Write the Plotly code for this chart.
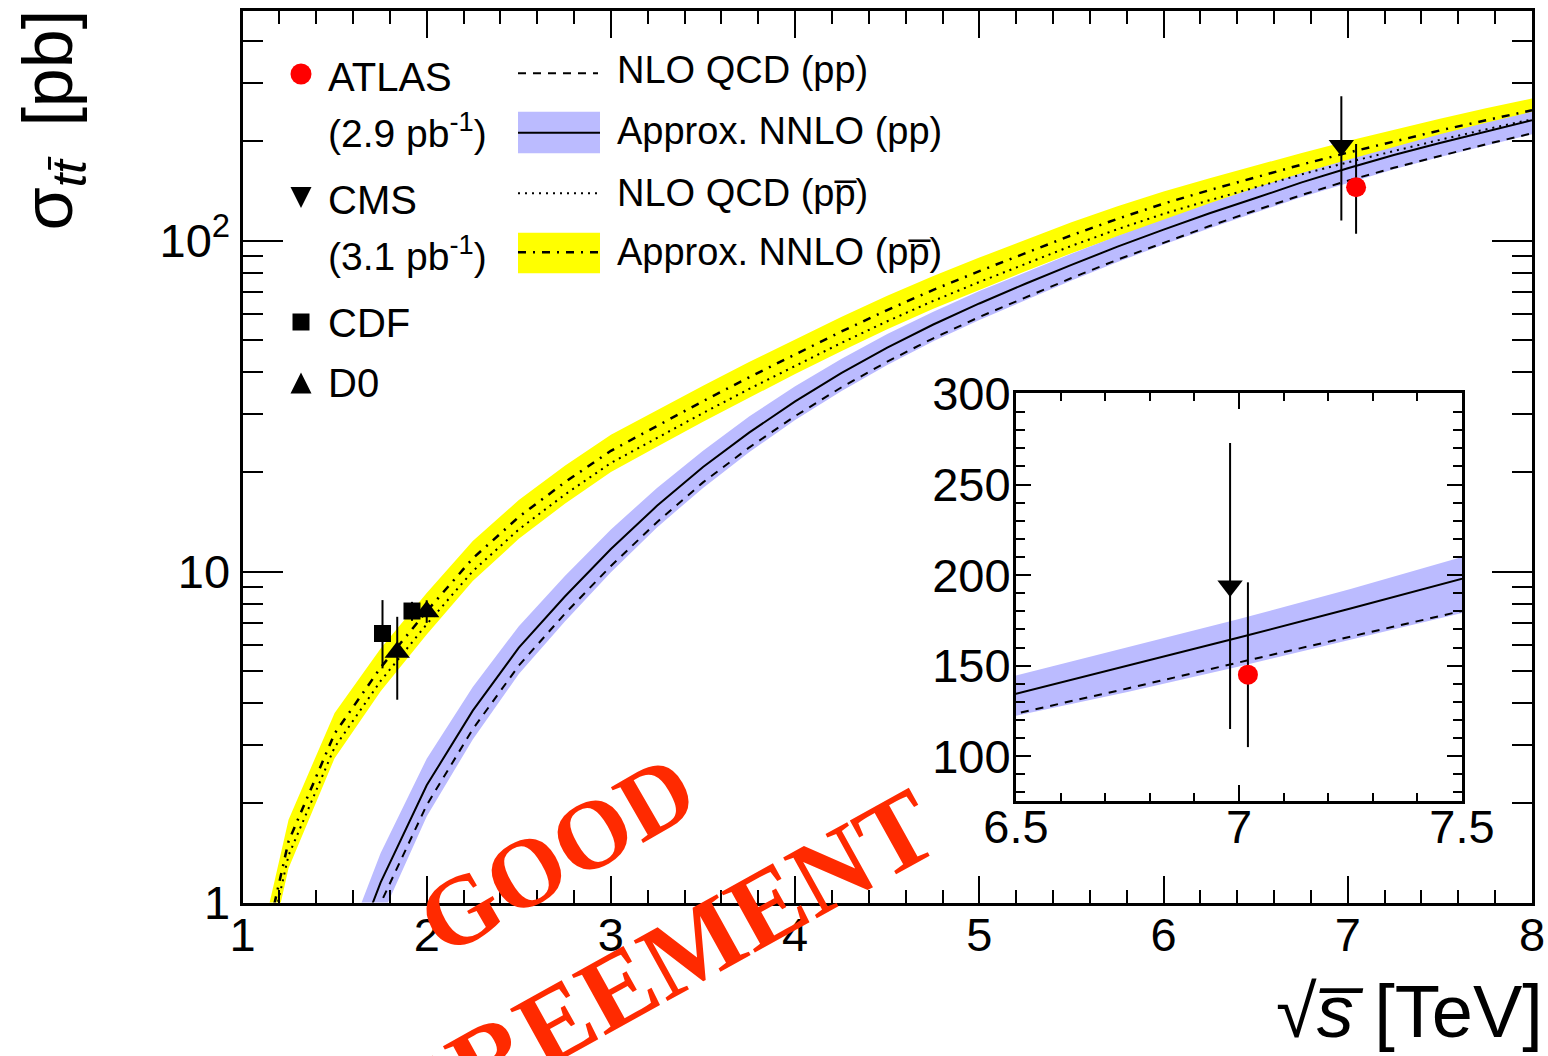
import plotly.graph_objects as go

W, H = 1548, 1056

# ---------------- theory curves: sigma(ttbar) in pb vs sqrt(s) in TeV ----------------
sqrt_s_pp = [1.5, 1.75, 2.0, 2.25, 2.5, 2.75, 3.0, 3.25, 3.5, 3.75, 4.0, 4.25, 4.5, 4.75,
             5.0, 5.25, 5.5, 5.75, 6.0, 6.25, 6.5, 6.75, 7.0, 7.25, 7.5, 7.75, 8.0]
pp_nnlo = [0.50, 1.15, 2.26, 3.80, 5.89, 8.41, 11.7, 15.8, 20.7, 26.3, 32.7, 39.8, 47.5, 55.8,
           64.6, 74.1, 84.5, 95.9, 108, 121, 134.5, 150, 165.5, 181.5, 197.3, 214, 231]
pp_nnlo_up = [0.615, 1.41, 2.72, 4.48, 6.84, 9.70, 13.4, 17.9, 23.2, 29.4, 36.3, 43.9, 52.2, 61.0,
              70.4, 80.3, 91.3, 103.3, 116, 129.8, 144.5, 160, 175.7, 192.3, 209.5, 227.3, 245.3]
pp_nnlo_lo = [0.388, 0.893, 1.82, 3.11, 4.90, 7.07, 9.96, 13.6, 17.9, 22.96, 28.7, 35.1, 42.1, 49.7,
              57.6, 66.2, 75.8, 86.2, 97.3, 109.1, 121.6, 135.5, 149.5, 164.3, 179, 194, 209.7]
pp_nlo = [0.43, 0.996, 1.97, 3.34, 5.20, 7.46, 10.4, 14.1, 18.6, 23.7, 29.5, 36.0, 43.1, 50.7,
          58.8, 67.5, 77.1, 87.6, 98.7, 110.7, 123.5, 137.4, 151.8, 166, 180.2, 195.6, 211]

sqrt_s_ppbar = [1.0, 1.25, 1.5, 1.75, 2.0, 2.25, 2.5, 2.75, 3.0, 3.25, 3.5, 3.75, 4.0, 4.25, 4.5,
                4.75, 5.0, 5.25, 5.5, 5.75, 6.0, 6.25, 6.5, 6.75, 7.0, 7.25, 7.5, 7.75, 8.0]
ppbar_nnlo = [0.372, 1.53, 3.24, 5.13, 7.59, 10.96, 14.62, 18.62, 23.17, 27.54, 32.73, 38.64, 45.4,
              53.1, 61.7, 71.0, 80.9, 91.8, 103.8, 116.4, 129.4, 142.2, 155.6, 169.8, 184.5,
              199.5, 215.3, 231.2, 247.7]
ppbar_nnlo_up = [0.437, 1.78, 3.74, 5.86, 8.61, 12.38, 16.45, 20.89, 25.93, 30.76, 36.46, 42.97,
                 50.35, 58.8, 68.1, 78.2, 88.9, 100.7, 113.6, 127.1, 140.9, 154.4, 168.7, 184.1,
                 200.0, 216.3, 233.4, 251.1, 269.0]
ppbar_nnlo_lo = [0.306, 1.27, 2.73, 4.35, 6.46, 9.37, 12.56, 16.03, 20.0, 23.82, 28.38, 33.58,
                 39.54, 46.36, 53.99, 62.27, 71.11, 80.88, 91.66, 103.0, 114.8, 126.4, 138.6,
                 151.6, 165.1, 179.0, 193.6, 208.5, 223.9]
ppbar_nlo = [0.337, 1.388, 2.945, 4.673, 6.93, 10.03, 13.41, 17.09, 21.29, 25.34, 30.14, 35.63,
             41.9, 49.06, 57.07, 65.75, 75.0, 85.19, 96.43, 108.3, 120.5, 132.5, 145.2, 158.6,
             172.5, 186.7, 201.7, 216.9, 232.6]

# ---------------- measurements ----------------
atlas_x_main, atlas_x_inset = [7.045], [7.02]
atlas_sigma, atlas_err_up, atlas_err_dn = [145], [51], [40]
cms_x_main, cms_x_inset = [6.965], [6.98]
cms_sigma, cms_err = [194], [79]
cdf_x = [1.76, 1.92]
cdf_sigma, cdf_err_up, cdf_err_dn = [6.5, 7.6], [1.7, 0.5], [1.4, 0.5]
d0_x = [1.84, 2.00]
d0_sigma, d0_err_up, d0_err_dn = [5.7, 7.56], [1.6, 0.63], [1.6, 0.56]

# tick labels
main_y_ticks = [1, 10, 100]
main_y_ticktext = ["1", "10", "10<sup>2</sup>"]
main_y_minor = [2, 3, 4, 5, 6, 7, 8, 9, 20, 30, 40, 50, 60, 70, 80, 90, 200, 300, 400]
inset_y_ticks = [100, 150, 200, 250, 300]

BLUE = "#bbbbff"
YELLOW = "#ffff00"
FONT = "Liberation Sans"


def px(x):
    return x / W


def py(y):
    return 1 - y / H


def band(xs, up, lo, color, xa, ya):
    return go.Scatter(x=xs + xs[::-1], y=up + lo[::-1], fill="toself", fillcolor=color,
                      line=dict(width=0), mode="lines", xaxis=xa, yaxis=ya,
                      hoverinfo="skip", showlegend=False)


def curve(xs, ys, dash, xa, ya, width=2):
    return go.Scatter(x=xs, y=ys, mode="lines", line=dict(color="black", width=width, dash=dash),
                      xaxis=xa, yaxis=ya, showlegend=False)


def points(xs, ys, up, dn, symbol, size, color, xa, ya):
    return go.Scatter(x=xs, y=ys, mode="markers",
                      marker=dict(symbol=symbol, size=size, color=color, line=dict(width=0)),
                      error_y=dict(type="data", array=up, arrayminus=dn, symmetric=False,
                                   thickness=2, width=0, color="black"),
                      xaxis=xa, yaxis=ya, showlegend=False)


DASH = "8px,7px"
DOT = "2px,5px"
DASHDOT = "8px,7px,2px,7px"

fig = go.Figure()
# main panel
fig.add_trace(band(sqrt_s_ppbar, ppbar_nnlo_up, ppbar_nnlo_lo, YELLOW, "x", "y"))
fig.add_trace(band(sqrt_s_pp, pp_nnlo_up, pp_nnlo_lo, BLUE, "x", "y"))
fig.add_trace(curve(sqrt_s_pp, pp_nlo, DASH, "x", "y"))
fig.add_trace(curve(sqrt_s_pp, pp_nnlo, "solid", "x", "y"))
fig.add_trace(curve(sqrt_s_ppbar, ppbar_nlo, DOT, "x", "y"))
fig.add_trace(curve(sqrt_s_ppbar, ppbar_nnlo, DASHDOT, "x", "y", width=2.5))
fig.add_trace(points(cdf_x, cdf_sigma, cdf_err_up, cdf_err_dn, "square", 17, "black", "x", "y"))
fig.add_trace(points(d0_x, d0_sigma, d0_err_up, d0_err_dn, "triangle-up", 22, "black", "x", "y"))
fig.add_trace(points(cms_x_main, cms_sigma, cms_err, cms_err, "triangle-down", 22, "black", "x", "y"))
fig.add_trace(points(atlas_x_main, atlas_sigma, atlas_err_up, atlas_err_dn, "circle", 20, "#ff0000", "x", "y"))
# inset zoomed around 7 TeV
fig.add_trace(band(sqrt_s_pp, pp_nnlo_up, pp_nnlo_lo, BLUE, "x2", "y2"))
fig.add_trace(curve(sqrt_s_pp, pp_nlo, DASH, "x2", "y2"))
fig.add_trace(curve(sqrt_s_pp, pp_nnlo, "solid", "x2", "y2"))
fig.add_trace(points(cms_x_inset, cms_sigma, cms_err, cms_err, "triangle-down", 22, "black", "x2", "y2"))
fig.add_trace(points(atlas_x_inset, atlas_sigma, atlas_err_up, atlas_err_dn, "circle", 20, "#ff0000", "x2", "y2"))

axis_common = dict(showgrid=False, zeroline=False, showline=True, linecolor="black", linewidth=3,
                   mirror="ticks", ticks="inside", tickwidth=2, tickcolor="black",
                   automargin=False, tickfont=dict(family=FONT, size=47, color="black"))

fig.update_layout(
    width=W, height=H, margin=dict(l=0, r=0, t=0, b=0, autoexpand=False),
    paper_bgcolor="white", plot_bgcolor="white", showlegend=False,
    xaxis=dict(domain=[px(242.5), px(1532)], range=[1, 8], tickmode="linear", tick0=1, dtick=1,
               ticklen=27, ticklabelstandoff=-11,
               minor=dict(dtick=0.2, tick0=1, ticks="inside", ticklen=13, tickwidth=2,
                          tickcolor="black", showgrid=False),
               anchor="y", **axis_common),
    yaxis=dict(domain=[py(902.5), py(11)], type="log", range=[0, 2.694], tickmode="array",
               tickvals=main_y_ticks, ticktext=main_y_ticktext, ticklen=40,
               minor=dict(tickmode="array", tickvals=main_y_minor, ticks="inside", ticklen=20,
                          tickwidth=2, tickcolor="black", showgrid=False),
               anchor="x", **axis_common),
    xaxis2=dict(domain=[px(1016), px(1462)], range=[6.5, 7.5], tickmode="linear", tick0=6.5,
                dtick=0.5, ticklen=16, ticklabelstandoff=-17,
                minor=dict(dtick=0.1, tick0=6.5, ticks="inside", ticklen=8, tickwidth=2,
                           tickcolor="black", showgrid=False),
                anchor="y2", **axis_common),
    yaxis2=dict(domain=[py(800.7), py(393.3)], range=[75.4, 300.4], tickmode="array",
                tickvals=inset_y_ticks, ticklen=15, ticklabelstandoff=-7,
                minor=dict(dtick=10, tick0=100, ticks="inside", ticklen=9, tickwidth=2,
                           tickcolor="black", showgrid=False),
                anchor="x2", **axis_common),
)

shapes = []
# legend, left column: experiments
shapes.append(dict(type="circle", xref="paper", yref="paper", x0=px(290.5), x1=px(311.5),
                   y0=py(84.5), y1=py(63.5), fillcolor="#ff0000", line=dict(width=0)))
shapes.append(dict(type="path", xref="paper", yref="paper",
                   path=f"M {px(290.5)},{py(187)} L {px(311.5)},{py(187)} L {px(301)},{py(208)} Z",
                   fillcolor="black", line=dict(width=0)))
shapes.append(dict(type="rect", xref="paper", yref="paper", x0=px(292.5), x1=px(309.5),
                   y0=py(330.5), y1=py(313.5), fillcolor="black", line=dict(width=0)))
shapes.append(dict(type="path", xref="paper", yref="paper",
                   path=f"M {px(290.5)},{py(393.5)} L {px(311.5)},{py(393.5)} L {px(301)},{py(372.5)} Z",
                   fillcolor="black", line=dict(width=0)))
# legend, right column: theory
shapes.append(dict(type="line", xref="paper", yref="paper", x0=px(518), x1=px(598),
                   y0=py(73.3), y1=py(73.3), line=dict(color="black", width=2, dash=DASH)))
shapes.append(dict(type="rect", xref="paper", yref="paper", x0=px(518), x1=px(600),
                   y0=py(153.3), y1=py(111.7), fillcolor=BLUE, line=dict(width=0)))
shapes.append(dict(type="line", xref="paper", yref="paper", x0=px(518), x1=px(600),
                   y0=py(132.7), y1=py(132.7), line=dict(color="black", width=2)))
shapes.append(dict(type="line", xref="paper", yref="paper", x0=px(518), x1=px(598),
                   y0=py(193.3), y1=py(193.3), line=dict(color="black", width=2, dash=DOT)))
shapes.append(dict(type="rect", xref="paper", yref="paper", x0=px(518), x1=px(600),
                   y0=py(273.3), y1=py(232.7), fillcolor=YELLOW, line=dict(width=0)))
shapes.append(dict(type="line", xref="paper", yref="paper", x0=px(518), x1=px(600),
                   y0=py(252.3), y1=py(252.3), line=dict(color="black", width=2.5, dash=DASHDOT)))
fig.update_layout(shapes=shapes)


def label(text, x, y, size=38, xanchor="left", yanchor="middle", angle=0, family=FONT,
          color="black"):
    return dict(text=text, x=px(x), y=py(y), xref="paper", yref="paper", showarrow=False,
                xanchor=xanchor, yanchor=yanchor, textangle=angle,
                font=dict(family=family, size=size, color=color))


PBAR = "p\u0305"
annotations = [
    label("ATLAS", 326, 77, size=40),
    label("(2.9 pb<sup>-1</sup>)", 326, 131, size=39),
    label("CMS", 326, 200, size=40),
    label("(3.1 pb<sup>-1</sup>)", 326, 254, size=39),
    label("CDF", 326, 323, size=40),
    label("D0", 326, 383, size=40),
    label("NLO QCD (pp)", 615, 70),
    label("Approx. NNLO (pp)", 615, 131),
    label(f"NLO QCD (p{PBAR})", 615, 193),
    label(f"Approx. NNLO (p{PBAR})", 615, 252),
    # axis titles
    label("\u221a<i>s\u0305</i> [TeV]", 1545, 1011, size=74, xanchor="right"),
    label("\u03c3<sub><i>tt\u0304</i></sub>\u2009 [pb]", 52, 8, size=70, xanchor="center",
          yanchor="top", angle=-90),
    # stamp
    label("<b>GOOD</b>", 556, 855, size=98, xanchor="center", angle=-30,
          family="Liberation Serif", color="#ff2a00"),
    label("<b>AGREEMENT</b>", 622, 985, size=106, xanchor="center", angle=-29,
          family="Liberation Serif", color="#ff2a00"),
]
fig.update_layout(annotations=annotations)

fig.write_html("out.html")
